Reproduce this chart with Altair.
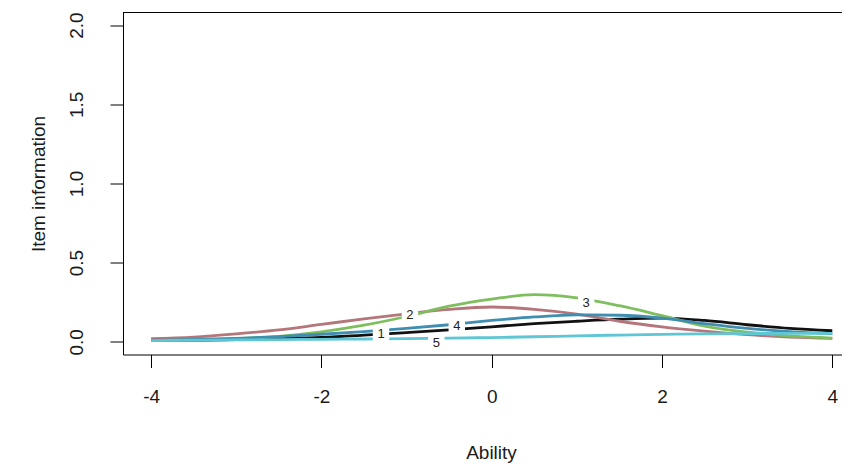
import altair as alt
import pandas as pd

# ability grid (x) and item information values
theta = [-4.0, -3.5, -3.0, -2.5, -2.0, -1.5, -1.0, -0.5, 0.0, 0.5, 1.0, 1.5, 2.0, 2.5, 3.0, 3.5, 4.0]
info_1 = [0.008, 0.010, 0.014, 0.020, 0.028, 0.042, 0.058, 0.075, 0.095, 0.115, 0.130, 0.143, 0.150, 0.135, 0.108, 0.085, 0.070]
info_2 = [0.020, 0.030, 0.050, 0.075, 0.110, 0.145, 0.177, 0.205, 0.220, 0.205, 0.175, 0.130, 0.095, 0.068, 0.045, 0.030, 0.022]
info_3 = [0.008, 0.012, 0.020, 0.035, 0.063, 0.105, 0.160, 0.225, 0.270, 0.298, 0.278, 0.228, 0.165, 0.100, 0.062, 0.038, 0.024]
info_4 = [0.010, 0.015, 0.022, 0.033, 0.048, 0.065, 0.085, 0.108, 0.135, 0.157, 0.170, 0.168, 0.150, 0.115, 0.085, 0.065, 0.052]
info_5 = [0.008, 0.010, 0.012, 0.014, 0.016, 0.018, 0.020, 0.023, 0.027, 0.032, 0.038, 0.043, 0.047, 0.050, 0.052, 0.053, 0.053]

item_names = ["1", "2", "3", "4", "5"]
item_colors = ["#111111", "#b4767a", "#7fbe5e", "#3f8db0", "#5ec6d4"]

# in-line curve labels
label_theta = [-1.30, -0.96, 1.11, -0.41, -0.65]
label_info = [0.050, 0.171, 0.247, 0.101, -0.006]

x_ticks = [-4, -2, 0, 2, 4]
y_ticks = [0.0, 0.5, 1.0, 1.5, 2.0]

rows = []
for name, vals in zip(item_names, [info_1, info_2, info_3, info_4, info_5]):
    for t, v in zip(theta, vals):
        rows.append({"item": name, "theta": t, "info": v})
df = pd.DataFrame(rows)
lab = pd.DataFrame({"item": item_names, "theta": label_theta, "info": label_info})
border = pd.DataFrame({"k": [0]})

FONT = "Liberation Sans"

x = alt.X(
    "theta:Q",
    scale=alt.Scale(domain=[-4.33, 4.114], nice=False, zero=False),
    axis=alt.Axis(
        values=x_ticks, title="Ability", labelExpr="'' + datum.value",
        labelPadding=20, labelFlush=False,
        titleX=368, titleY=98, titleAlign="center", titleBaseline="middle",
    ),
)
y = alt.Y(
    "info:Q",
    scale=alt.Scale(domain=[-0.08, 2.08], nice=False, zero=False),
    axis=alt.Axis(
        values=y_ticks, title="Item information", format=".1f",
        labelAngle=270, labelAlign="center", labelBaseline="bottom",
        labelPadding=24, labelFlush=False,
        titleAngle=270, titleX=-85, titleY=171, titleAlign="center", titleBaseline="middle",
    ),
)

lines = alt.Chart(df).mark_line(strokeWidth=2.8, interpolate="monotone", clip=True).encode(
    x=x, y=y,
    color=alt.Color("item:N", scale=alt.Scale(domain=item_names, range=item_colors), legend=None),
)
masks = alt.Chart(lab).mark_square(size=270, color="white", opacity=1, filled=True).encode(x=x, y=y)
texts = alt.Chart(lab).mark_text(fontSize=13, font=FONT, color="#222222").encode(x=x, y=y, text="item:N")
top = alt.Chart(border).mark_rule(color="black", strokeWidth=1).encode(y=alt.value(0))

chart = alt.layer(lines, masks, texts, top).properties(
    width=719, height=342,
    autosize=alt.AutoSizeParams(type="none"),
    padding={"left": 115, "top": 4.5, "right": 0, "bottom": 109},
).configure_view(strokeWidth=0).configure_axis(
    grid=False, domainColor="black", domainWidth=1, tickColor="black", tickWidth=1, tickSize=13,
    labelFont=FONT, labelFontSize=19, labelColor="#1a1a1a",
    titleFont=FONT, titleFontSize=19, titleFontWeight="normal", titleColor="#1a1a1a",
)

chart.save("out.html", embed_options={"renderer": "svg", "actions": False})
